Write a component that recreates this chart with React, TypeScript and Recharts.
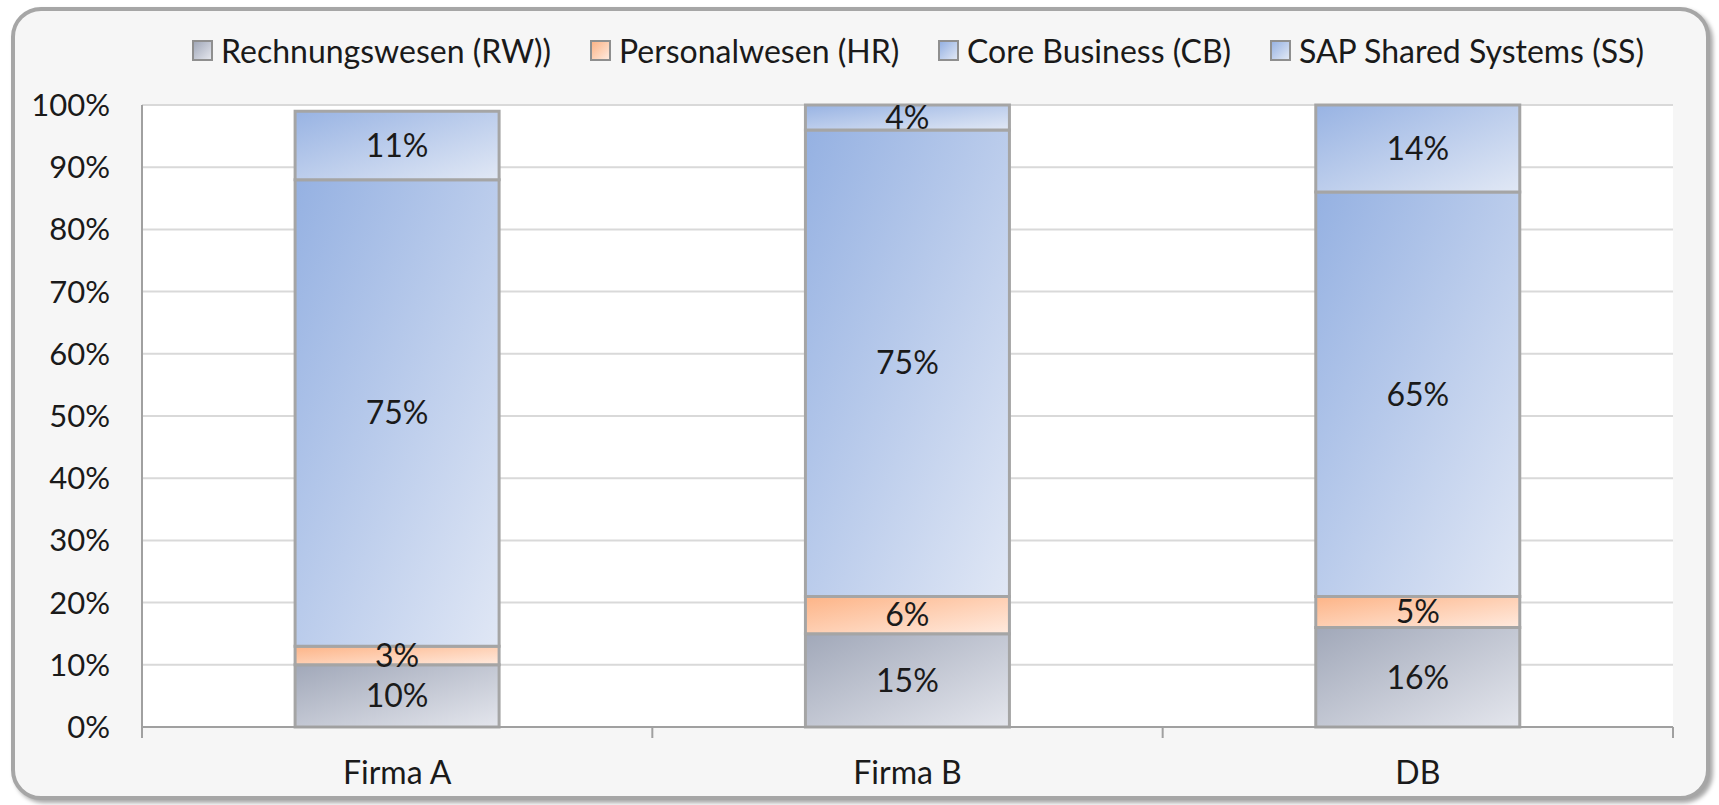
import React from "react";
import { BarChart, Bar, XAxis, YAxis, CartesianGrid, Legend, LabelList } from "recharts";

const categories = ["Firma A", "Firma B", "DB"];
const rwValues = [10, 15, 16];
const hrValues = [3, 6, 5];
const cbValues = [75, 75, 65];
const ssValues = [11, 4, 14];
const yTicks = [0, 10, 20, 30, 40, 50, 60, 70, 80, 90, 100];
const edgeTicks = [0, 1, 2, 3];

const series = [
  { key: "rw", name: "Rechnungswesen (RW))", grad: "gRW", from: "#a1a8b9", to: "#e4e6ed" },
  { key: "hr", name: "Personalwesen (HR)", grad: "gHR", from: "#fdb487", to: "#ffeade" },
  { key: "cb", name: "Core Business (CB)", grad: "gCB", from: "#95b1e2", to: "#e0e7f5" },
  { key: "ss", name: "SAP Shared Systems (SS)", grad: "gSS", from: "#98b3e3", to: "#e1e8f5" },
];

const data = categories.map((name, i) => ({
  name,
  rw: rwValues[i],
  hr: hrValues[i],
  cb: cbValues[i],
  ss: ssValues[i],
}));

const FONT = "Lato, 'Noto Sans', sans-serif";
const W = 1719;
const H = 805;

function LegendBox() {
  return (
    <div style={{ display: "flex", justifyContent: "space-between", alignItems: "center", fontFamily: FONT, fontSize: 32, color: "#1a1a1a" }}>
      {series.map((s) => (
        <div key={s.key} style={{ display: "flex", alignItems: "center" }}>
          <span
            style={{
              display: "inline-block",
              width: 17,
              height: 17,
              marginRight: 8,
              border: "2px solid #8f8f8f",
              background: `linear-gradient(135deg, ${s.from}, ${s.to})`,
            }}
          />
          <span>{s.name}</span>
        </div>
      ))}
    </div>
  );
}

export default function App() {
  return (
    <div style={{ position: "absolute", left: 0, top: 0, width: W, height: H, background: "#fff" }}>
      <div
        style={{
          position: "absolute",
          left: 11,
          top: 7,
          width: 1699,
          height: 793,
          boxSizing: "border-box",
          border: "4px solid #a6a6a6",
          borderRadius: 30,
          background: "#f6f6f6",
          boxShadow: "3px 3px 4px rgba(0,0,0,0.35)",
        }}
      />
      <div style={{ position: "absolute", left: 0, top: 0 }}>
        <BarChart
          width={W}
          height={H}
          data={data}
          margin={{ top: 105, right: 46, bottom: 17, left: 42 }}
          barCategoryGap="30%"
          style={{ fontFamily: FONT }}
        >
          <defs>
            {series.map((s) => (
              <linearGradient key={s.grad} id={s.grad} x1="0" y1="0" x2="1" y2="1">
                <stop offset="0%" stopColor={s.from} />
                <stop offset="100%" stopColor={s.to} />
              </linearGradient>
            ))}
          </defs>
          <CartesianGrid xAxisId="b" vertical={false} stroke="#d9d9d9" strokeWidth={2} fill="#ffffff" />
          <XAxis
            xAxisId="b"
            dataKey="name"
            height={60}
            axisLine={false}
            tickLine={false}
            tickSize={0}
            tickMargin={33}
            tick={{ fill: "#1a1a1a", fontSize: 32 }}
          />
          {/* second axis only for the tick marks between the categories */}
          <XAxis
            xAxisId="a"
            type="number"
            dataKey="_edge"
            domain={[0, 3]}
            ticks={edgeTicks}
            interval={0}
            allowDataOverflow
            height={1}
            tickSize={11}
            tick={{ fill: "transparent", fontSize: 1 }}
            axisLine={{ stroke: "#a0a0a0", strokeWidth: 2 }}
            tickLine={{ stroke: "#a0a0a0", strokeWidth: 2 }}
          />
          <YAxis
            domain={[0, 100]}
            ticks={yTicks}
            width={100}
            tickLine={false}
            tickSize={0}
            tickMargin={32}
            tickFormatter={(v) => `${v}%`}
            axisLine={{ stroke: "#a0a0a0", strokeWidth: 2 }}
            tick={{ fill: "#1a1a1a", fontSize: 31 }}
          />
          <Legend
            verticalAlign="middle"
            align="center"
            layout="horizontal"
            wrapperStyle={{ top: 31, left: 192, width: 1452 }}
            content={() => <LegendBox />}
          />
          {series.map((s) => (
            <Bar
              key={s.key}
              xAxisId="b"
              dataKey={s.key}
              name={s.name}
              stackId="a"
              fill={`url(#${s.grad})`}
              stroke="#a5a5a5"
              strokeWidth={3}
              isAnimationActive={false}
            >
              <LabelList
                dataKey={s.key}
                position="center"
                formatter={(v: any) => `${v}%`}
                fill="#1a1a1a"
                fontSize={32}
              />
            </Bar>
          ))}
        </BarChart>
      </div>
    </div>
  );
}
